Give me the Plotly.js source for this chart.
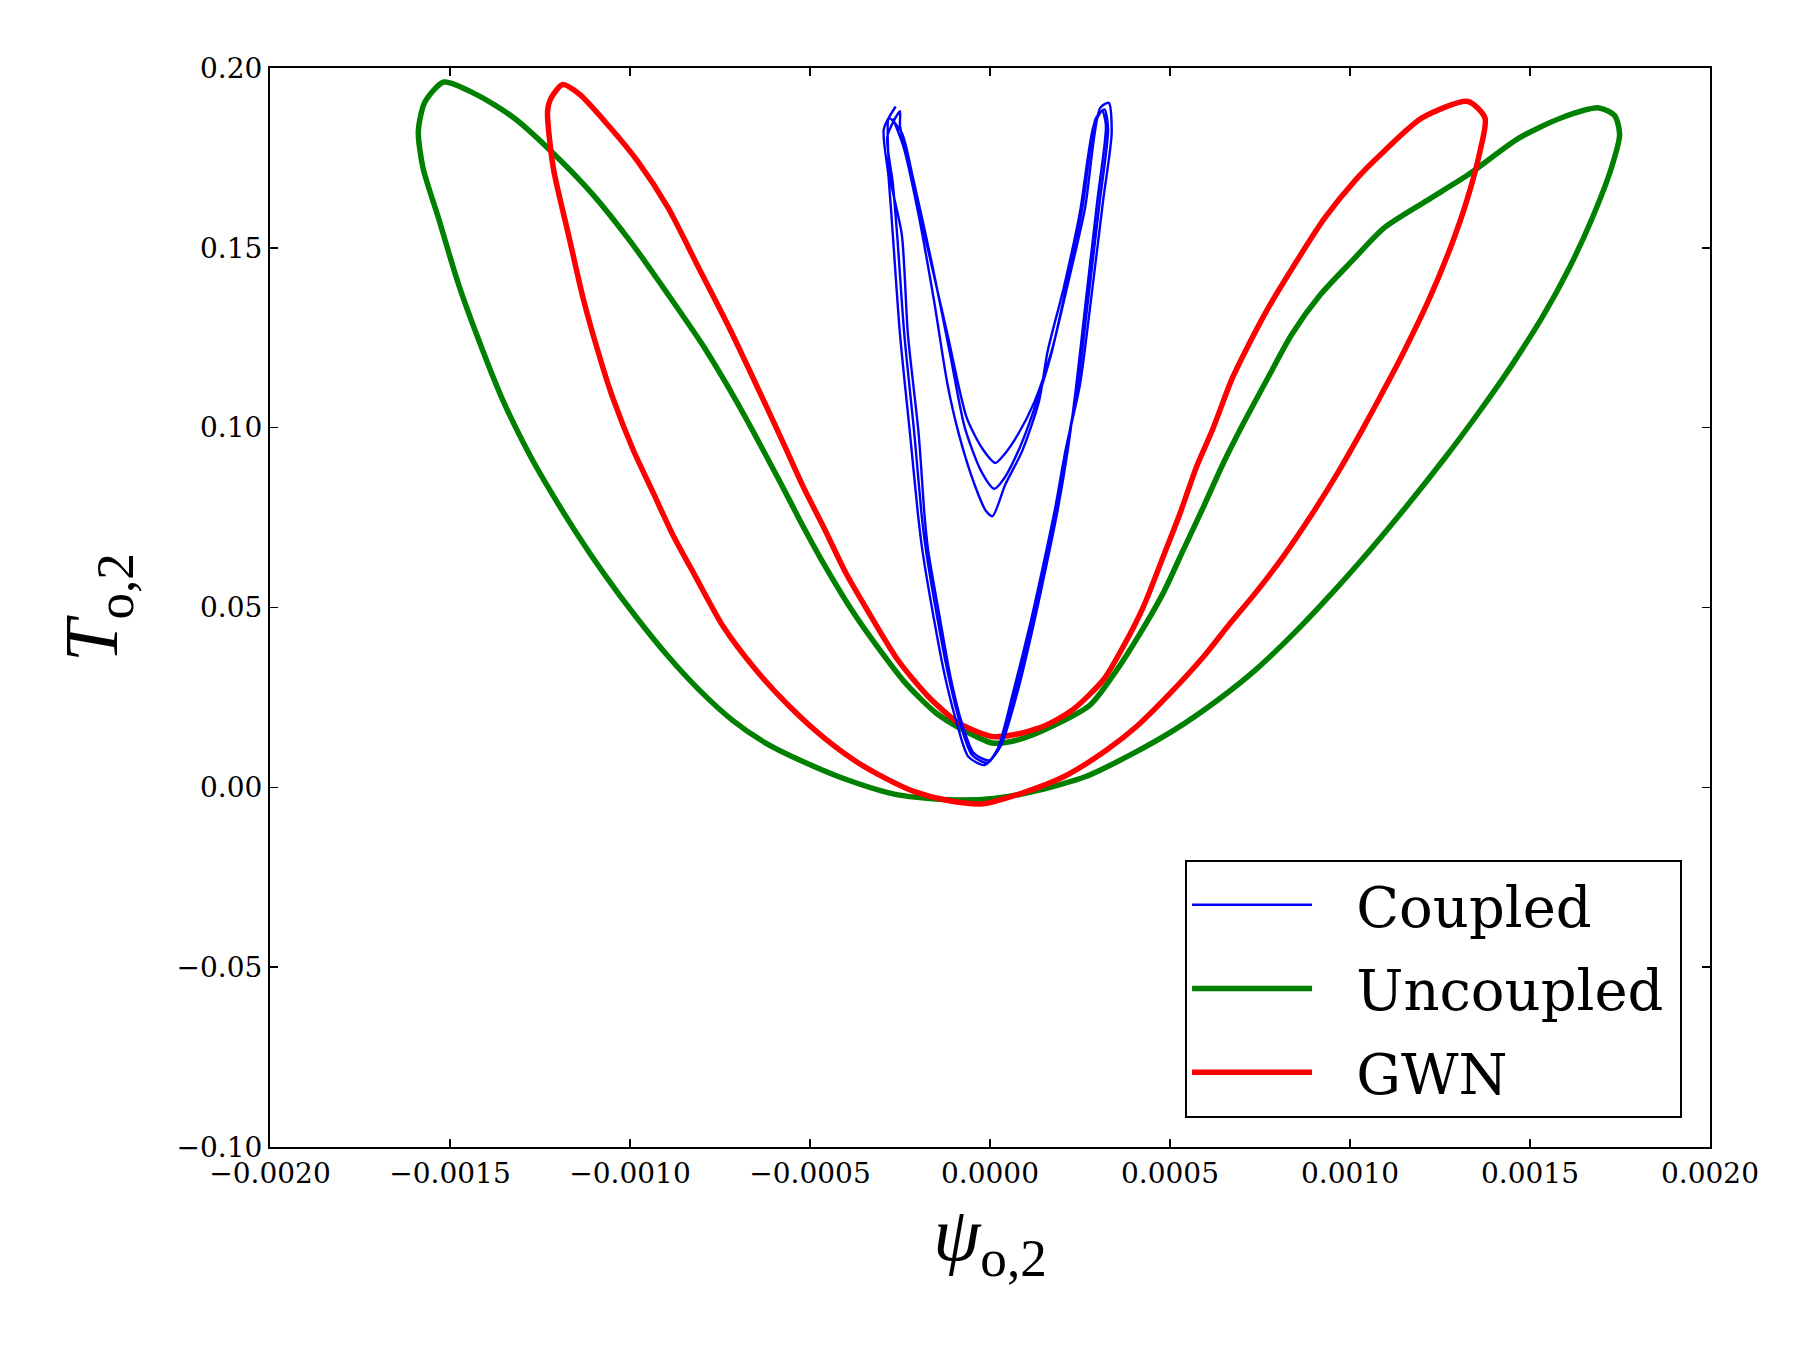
<!DOCTYPE html>
<html>
<head>
<meta charset="utf-8">
<script src="https://cdn.plot.ly/plotly-3.0.1.min.js"></script>
<style>html,body{margin:0;padding:0;background:#fff;}#chart{width:1800px;height:1350px;}</style>
</head>
<body>
<div id="chart"></div>
<script>
// ---- Data ----
const seriesNames = ["Coupled", "Uncoupled", "GWN"];

// Uncoupled (green) orbit
const uncoupledX = [-0.001517,-0.00157,-0.001588,-0.001575,-0.001532,-0.001479,-0.001426,-0.001354,-0.001281,-0.001223,-0.001148,-0.001073,-0.000984,-0.000893,-0.000808,-0.000716,-0.000623,-0.000529,-0.000397,-0.000256,-0.0000964,0.00001,0.000119,0.000266,0.000399,0.000511,0.000633,0.000737,0.000844,0.00095,0.001056,0.001156,0.001266,0.001343,0.001422,0.001457,0.001533,0.001609,0.001673,0.001726,0.001749,0.001735,0.001691,0.001586,0.001469,0.001328,0.001211,0.001094,0.001005,0.000918,0.000838,0.000769,0.000704,0.000648,0.000593,0.000537,0.000481,0.000417,0.000352,0.000278,0.000171,0.0000775,0.0000072,-0.000075,-0.000149,-0.000234,-0.00032,-0.000384,-0.000473,-0.000519,-0.000567,-0.000606,-0.000655,-0.000707,-0.000799,-0.000894,-0.000999,-0.001103,-0.0012,-0.001322,-0.001426,-0.001517];
const uncoupledY = [0.1961,0.1905,0.1824,0.1722,0.1583,0.1407,0.1259,0.1078,0.0929,0.0827,0.0706,0.0595,0.0475,0.0363,0.0271,0.0187,0.0123,0.0076,0.0021,-0.0021,-0.0035,-0.0031,-0.0012,0.0030,0.0095,0.0159,0.0243,0.0326,0.0428,0.0540,0.0660,0.0780,0.0919,0.1022,0.1133,0.1185,0.1305,0.1444,0.1583,0.1722,0.1815,0.1868,0.1889,0.1861,0.1805,0.1703,0.1630,0.1555,0.1463,0.1370,0.1259,0.1133,0.1012,0.0901,0.0780,0.0660,0.0540,0.0428,0.0326,0.0229,0.0169,0.0132,0.0123,0.0160,0.0206,0.0289,0.0401,0.0493,0.0641,0.0725,0.0818,0.0892,0.0984,0.1078,0.1231,0.1370,0.1518,0.1648,0.1750,0.1861,0.1926,0.1961];

// GWN (red) orbit
const gwnX = [-0.001187,-0.00122,-0.001229,-0.001213,-0.001171,-0.001128,-0.001075,-0.001046,-0.000991,-0.000935,-0.000883,-0.000818,-0.000741,-0.00065,-0.000556,-0.000465,-0.000372,-0.00029,-0.00021,-0.00012,-0.00002,0.0000892,0.000206,0.000324,0.000407,0.0005,0.000593,0.000667,0.000737,0.000814,0.000896,0.000965,0.001034,0.001109,0.00115,0.001217,0.001275,0.001324,0.001361,0.001375,0.001328,0.0012,0.001094,0.00102,0.00093,0.00084,0.000773,0.000709,0.000671,0.000618,0.000574,0.000528,0.000481,0.000426,0.00037,0.000315,0.000229,0.000147,0.0000658,0.0000072,-0.0000856,-0.000171,-0.000256,-0.000341,-0.0004,-0.000463,-0.000519,-0.000574,-0.00063,-0.000724,-0.000809,-0.000894,-0.000979,-0.001054,-0.001139,-0.001187];
const gwnY = [0.1954,0.1915,0.1880,0.1722,0.1537,0.1351,0.1166,0.1078,0.0938,0.0818,0.0706,0.0586,0.0447,0.0326,0.0224,0.0141,0.0072,0.0025,-0.0012,-0.0036,-0.0046,-0.0016,0.0030,0.0104,0.0169,0.0261,0.0363,0.0456,0.0540,0.0641,0.0762,0.0873,0.0994,0.1133,0.1212,0.1351,0.1490,0.1630,0.1768,0.1861,0.1907,0.1861,0.1768,0.1694,0.1583,0.1444,0.1333,0.1212,0.1133,0.0994,0.0892,0.0762,0.0641,0.0502,0.0391,0.0299,0.0215,0.0169,0.0146,0.0141,0.0178,0.0252,0.0354,0.0493,0.0595,0.0725,0.0836,0.0957,0.1078,0.1277,0.1444,0.1611,0.1741,0.1833,0.1926,0.1954];

// Coupled (blue) orbit, three successive cycles
const coupledCycle1X = [-0.000262,-0.000295,-0.000282,-0.00027,-0.00025,-0.000222,-0.0002,-0.000188,-0.000157,-0.000125,-0.000092,-0.00006,-0.000015,0.00002,0.000066,0.000112,0.000147,0.00018,0.00021,0.00025,0.00028,0.000314,0.000338,0.00033,0.000306,0.000264,0.000218,0.000171,0.000124,0.0000775,0.000035,0.000015,-0.00002,-0.0000645,-0.000118,-0.000171,-0.000224,-0.00025];
const coupledCycle1Y = [0.1893,0.183,0.170,0.1537,0.1259,0.0981,0.0758,0.066,0.0475,0.0308,0.0178,0.0085,0.0062,0.0104,0.0271,0.0456,0.0614,0.0771,0.0938,0.112,0.1351,0.163,0.182,0.1903,0.1889,0.161,0.1407,0.1212,0.1073,0.0981,0.092,0.0902,0.094,0.1027,0.1259,0.149,0.1722,0.184];
const coupledCycle2X = [-0.00025,-0.000285,-0.00027,-0.000258,-0.000238,-0.00021,-0.00019,-0.000178,-0.000147,-0.000115,-0.000083,-0.00005,-0.000008,0.000025,0.000072,0.000117,0.000151,0.000183,0.000212,0.000244,0.000272,0.000305,0.000328,0.000318,0.000294,0.000258,0.000215,0.000172,0.00013,0.000085,0.00004,0.000012,-0.000025,-0.00007,-0.00011,-0.00016,-0.000215,-0.000245];
const coupledCycle2Y = [0.188,0.181,0.168,0.1537,0.1259,0.0981,0.0758,0.066,0.0475,0.0308,0.0178,0.009,0.0068,0.011,0.0271,0.0456,0.0614,0.0771,0.0938,0.112,0.1351,0.163,0.183,0.1885,0.186,0.162,0.1407,0.1212,0.1073,0.095,0.086,0.083,0.088,0.1,0.12,0.145,0.17,0.182];
const coupledCycle3X = [-0.00028,-0.000278,-0.000245,-0.000228,-0.000198,-0.000182,-0.000172,-0.00014,-0.00011,-0.000078,-0.000045,-0.000003,0.00003,0.000078,0.000122,0.000156,0.000188,0.000216,0.00024,0.000266,0.000298,0.000322,0.000312,0.000288,0.00025,0.000205,0.00016,0.000136,0.000089,0.0000425,0.000007,-0.000011,-0.000043,-0.000086,-0.000118,-0.000155,-0.0002,-0.00024,-0.00027];
const coupledCycle3Y = [0.186,0.17,0.1537,0.1259,0.0981,0.0758,0.066,0.0475,0.0308,0.0178,0.0095,0.0075,0.0115,0.0271,0.0456,0.0614,0.0771,0.0938,0.112,0.1351,0.163,0.184,0.188,0.184,0.16,0.139,0.1212,0.1073,0.0934,0.0842,0.0754,0.0768,0.0842,0.098,0.112,0.135,0.16,0.178,0.186];

const xTickVals = [-0.002,-0.0015,-0.001,-0.0005,0,0.0005,0.001,0.0015,0.002];
const yTickVals = [-0.10,-0.05,0.00,0.05,0.10,0.15,0.20];

// ---- Build traces ----
const coupledX = coupledCycle1X.concat(coupledCycle2X, coupledCycle3X);
const coupledY = coupledCycle1Y.concat(coupledCycle2Y, coupledCycle3Y);

const lineShape = {shape: 'spline', smoothing: 0.7};
const lead = '\u2002\u2009', trail = '\u2009';

const traces = [
  {x: uncoupledX, y: uncoupledY, name: lead + seriesNames[1] + trail, mode: 'lines', legendrank: 2, legendgroup: 'g2',
   line: Object.assign({color: '#008000', width: 5.5}, lineShape)},
  {x: gwnX, y: gwnY, name: lead + seriesNames[2] + trail, mode: 'lines', legendrank: 3, legendgroup: 'g3',
   line: Object.assign({color: '#ff0000', width: 5.5}, lineShape)},
  {x: coupledX, y: coupledY, name: lead + seriesNames[0] + trail, mode: 'lines', legendrank: 1, legendgroup: 'g1',
   line: Object.assign({color: '#0000ff', width: 2.4}, lineShape)}
];

const tickFont = {family: 'DejaVu Serif', size: 28, color: '#000'};

const layout = {
  width: 1800, height: 1350,
  margin: {l: 270, r: 90, t: 68, b: 203},
  paper_bgcolor: '#fff', plot_bgcolor: '#fff',
  showlegend: true,
  xaxis: {
    range: [-0.002, 0.002], tickvals: xTickVals, tickformat: '.4f',
    ticks: 'inside', ticklen: 8, tickwidth: 1.5, tickcolor: '#000',
    showline: true, linecolor: '#000', linewidth: 2, mirror: 'ticks',
    showgrid: false, zeroline: false, tickfont: tickFont,
    title: {text: '<i>ψ</i><sub>o,2</sub>', font: {family: 'Liberation Serif', size: 76, color: '#000'}, standoff: 18}
  },
  yaxis: {
    range: [-0.10, 0.20], tickvals: yTickVals, tickformat: '.2f',
    ticks: 'inside', ticklen: 8, tickwidth: 1.5, tickcolor: '#000',
    showline: true, linecolor: '#000', linewidth: 2, mirror: 'ticks',
    showgrid: false, zeroline: false, tickfont: tickFont,
    title: {text: '<i>T</i><sub>o,2</sub>', font: {family: 'Liberation Serif', size: 76, color: '#000'}, standoff: 34}
  },
  legend: {
    x: 0.9806, y: 0.027, xanchor: 'right', yanchor: 'bottom',
    bgcolor: '#fff', bordercolor: '#000', borderwidth: 2,
    font: {family: 'DejaVu Serif', size: 56, color: '#000'},
    itemwidth: 120, traceorder: 'grouped', tracegroupgap: 8
  }
};

Plotly.newPlot('chart', traces, layout, {displayModeBar: false, staticPlot: true});
</script>
</body>
</html>
